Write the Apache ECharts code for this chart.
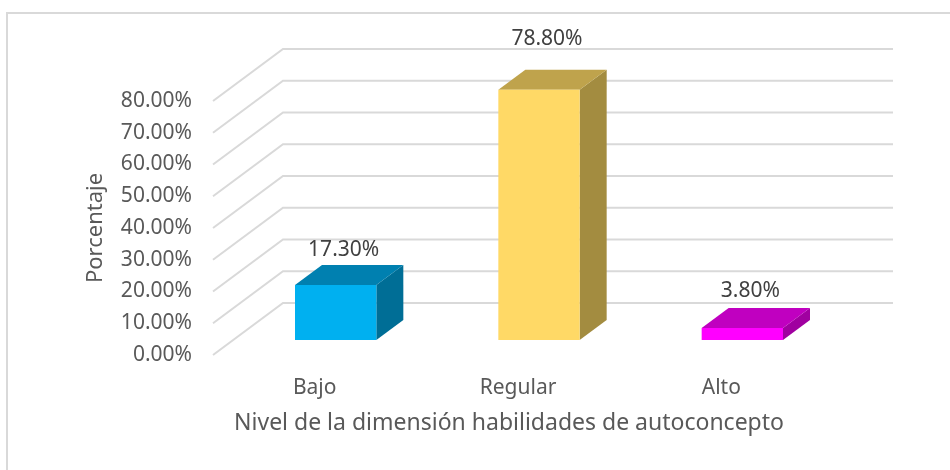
<!DOCTYPE html>
<html>
<head>
<meta charset="utf-8">
<script src="https://cdn.jsdelivr.net/npm/echarts@6/dist/echarts.min.js"></script>
<style>
  html, body { margin: 0; padding: 0; background: #fff; }
  #chart { width: 950px; height: 470px; }
</style>
</head>
<body>
<div id="chart"></div>
<script>
// datos del gráfico
const categories = ["Bajo", "Regular", "Alto"]
const percentages = [17.3, 78.8, 3.8]
const yTicks = [0, 10, 20, 30, 40, 50, 60, 70, 80]

const FONT = "Noto Sans"
// frente, tapa, lado
const faceColors = [
  ["#00b0f0", "#0080b0", "#006e96"],
  ["#ffd966", "#bfa34c", "#a38c40"],
  ["#ff00ff", "#c000c0", "#a000a0"],
]
// profundidad del piso hasta la pared del fondo
const WALL_DX = 70, WALL_DY = -52
// la barra está metida un poco dentro de la profundidad
const BAR_OX = 21, BAR_OY = -15
const BAR_DX = 27, BAR_DY = -20
const labelLift = [15, 31, 17]

const myChart = echarts.init(document.getElementById("chart"))

const option = {
  animation: false,
  backgroundColor: "#fff",
  textStyle: { fontFamily: FONT },
  graphic: [
    {
      type: "rect",
      shape: { x: 7, y: 13, width: 960, height: 480 },
      style: { fill: "none", stroke: "#d9d9d9", lineWidth: 2 },
      silent: true,
    },
  ],
  grid: { left: 213, right: 127, top: 101, bottom: 115 },
  xAxis: {
    type: "category",
    data: categories,
    axisLine: { show: false },
    axisTick: { show: false },
    axisLabel: { color: "#595959", fontSize: 21, margin: 23, fontFamily: FONT },
    name: "Nivel de la dimensión habilidades de autoconcepto",
    nameLocation: "middle",
    nameGap: 57,
    nameTextStyle: { color: "#595959", fontSize: 23, fontFamily: FONT, padding: [0, 18, 0, 0] },
  },
  yAxis: {
    type: "value",
    min: 0,
    max: 80,
    interval: 10,
    splitLine: { show: false },
    axisLine: { show: false },
    axisTick: { show: false },
    axisLabel: {
      color: "#595959",
      fontSize: 21,
      margin: 21,
      fontFamily: FONT,
      formatter: (v) => v.toFixed(2) + "%",
    },
    name: "Porcentaje",
    nameLocation: "middle",
    nameGap: 106,
    nameTextStyle: { color: "#595959", fontSize: 22, fontFamily: FONT },
  },
  series: [
    {
      // líneas de división: diagonal del piso + pared del fondo
      type: "custom",
      z: 1,
      silent: true,
      data: yTicks.map((t) => [0, t]),
      renderItem(params, api) {
        const cs = params.coordSys
        const y = api.coord([0, api.value(1)])[1]
        const x0 = cs.x
        return {
          type: "polyline",
          shape: {
            points: [
              [x0, y],
              [x0 + WALL_DX, y + WALL_DY],
              [cs.x + cs.width + WALL_DX, y + WALL_DY],
            ],
          },
          style: { stroke: "#d9d9d9", lineWidth: 2, fill: "none" },
        }
      },
    },
    {
      // barras 3D
      type: "custom",
      z: 3,
      data: percentages.map((v, i) => [i, v]),
      renderItem(params, api) {
        const i = api.value(0)
        const base = api.coord([i, 0])
        const top = api.coord([i, api.value(1)])
        const w = api.size([1, 0])[0] * 0.4
        const cx = base[0] + BAR_OX
        const l = cx - w / 2, r = cx + w / 2
        const b = base[1] + BAR_OY, t = top[1] + BAR_OY
        const c = faceColors[i]
        return {
          type: "group",
          children: [
            {
              type: "polygon",
              shape: { points: [[r, t], [r + BAR_DX, t + BAR_DY], [r + BAR_DX, b + BAR_DY], [r, b]] },
              style: { fill: c[2] },
            },
            {
              type: "polygon",
              shape: { points: [[l, t], [r, t], [r + BAR_DX, t + BAR_DY], [l + BAR_DX, t + BAR_DY]] },
              style: { fill: c[1] },
            },
            {
              type: "rect",
              shape: { x: l, y: t, width: w, height: b - t },
              style: { fill: c[0] },
            },
            {
              type: "text",
              style: {
                text: api.value(1).toFixed(2) + "%",
                x: cx + 8,
                y: t + BAR_DY - labelLift[i],
                align: "center",
                verticalAlign: "middle",
                fill: "#404040",
                font: "21px '" + FONT + "'",
              },
            },
          ],
        }
      },
    },
  ],
}

myChart.setOption(option)
</script>
</body>
</html>
